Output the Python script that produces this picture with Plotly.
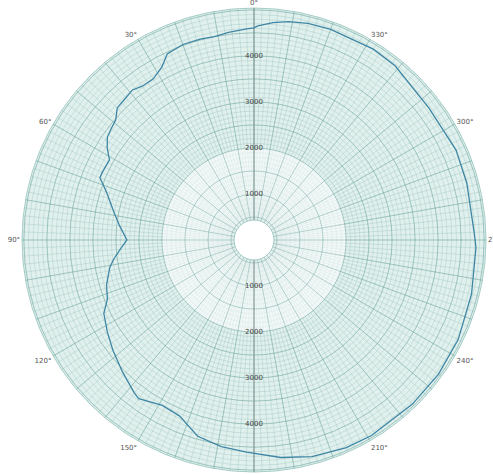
import plotly.graph_objects as go

# ---- data ----
theta_deg = [0, 2, 7, 11, 15, 20, 25, 28, 32, 36, 39, 43, 46, 49, 52, 55, 58, 61, 66, 68,
             72, 78, 84, 90, 94, 98, 101, 107, 112, 116, 122, 128, 135, 142, 144, 151, 157,
             164, 171, 178, 187, 195, 204, 211, 224, 234, 244, 256, 268, 272, 285, 294, 307,
             321, 328, 340, 346, 351, 355, 359, 360]
r_vals = [4610, 4590, 4545, 4500, 4520, 4520, 4460, 4260, 4130, 4130, 4195, 4150, 4130, 3980,
          3935, 3890, 3760, 3590, 3610, 3610, 3370, 3130, 2935, 2760, 2915, 3085, 3195, 3350,
          3435, 3630, 3760, 3890, 4045, 4220, 4260, 4110, 4150, 4435, 4545, 4610, 4760, 4870,
          4935, 4955, 4955, 4955, 4935, 4870, 4825, 4785, 4785, 4805, 4760, 4870, 4890, 4870,
          4850, 4805, 4740, 4650, 4610]

radial_label_vals = [1000, 2000, 3000, 4000]
radial_label_text = ["1000", "2000", "3000", "4000"]
angle_label_vals = [0, 30, 60, 90, 120, 150, 180, 210, 240, 270, 300, 330]
angle_label_text = ["0°", "30°", "60°", "90°", "120°", "150°", "180°", "210°",
                    "240°", "270°", "300°", "330°"]

R_MIN, R_MAX = 435, 5040
INNER_ZONE_END = 2000

# ---- styling helpers ----
minor_theta = list(range(0, 360, 2))
minor_theta_text = [angle_label_text[angle_label_vals.index(a)] if a in angle_label_vals else ""
                    for a in minor_theta]
minor_r = list(range(500, 5001, 100))
major_theta = list(range(0, 360, 10))
major_r = list(range(500, 5001, 500))

W, H = 493, 475
cx, cy, rad = 254, 240, 232
dom_x = [(cx - rad) / W, (cx + rad) / W]
dom_y = [(H - (cy + rad)) / H, (H - (cy - rad)) / H]
hole = 20 / rad

fig = go.Figure()

# lighter inner zone
fig.add_trace(go.Barpolar(
    r=[INNER_ZONE_END - R_MIN], base=[R_MIN], theta=[0], width=[360],
    marker=dict(color="rgba(255,255,255,0.55)", line=dict(width=0)),
    hoverinfo="skip", subplot="polar", showlegend=False))

# recorded trace
fig.add_trace(go.Scatterpolar(
    r=r_vals, theta=theta_deg, mode="lines",
    line=dict(color="#3f86a4", width=1.3),
    subplot="polar2", showlegend=False))

# radial labels on the vertical axis (top and bottom)
fig.add_trace(go.Scatterpolar(
    r=radial_label_vals + radial_label_vals,
    theta=[0] * len(radial_label_vals) + [180] * len(radial_label_vals),
    mode="text", text=radial_label_text + radial_label_text,
    textfont=dict(size=7, color="#444444", family="DejaVu Sans"),
    subplot="polar2", showlegend=False, hoverinfo="skip"))

minor_grid = "rgba(110,165,160,0.22)"
major_grid = "rgba(90,150,145,0.36)"

fig.update_layout(
    width=W, height=H,
    margin=dict(l=0, r=0, t=0, b=0),
    paper_bgcolor="white",
    showlegend=False,
    polar=dict(
        domain=dict(x=dom_x, y=dom_y),
        bgcolor="#e0f0ed",
        hole=hole,
        angularaxis=dict(
            rotation=90, direction="counterclockwise",
            tickmode="array", tickvals=minor_theta, ticktext=minor_theta_text,
            ticks="", showgrid=True, gridcolor=minor_grid, gridwidth=0.5,
            showline=True, linecolor="#a6cdc7", linewidth=1,
            tickfont=dict(size=7, color="#555555", family="DejaVu Sans"),
            layer="above traces"),
        radialaxis=dict(
            range=[R_MIN, R_MAX], tickmode="array", tickvals=minor_r,
            showticklabels=False, ticks="", showgrid=True,
            gridcolor=minor_grid, gridwidth=0.5,
            showline=True, linecolor="#8a9896", linewidth=1, angle=90,
            layer="above traces"),
    ),
    polar2=dict(
        domain=dict(x=dom_x, y=dom_y),
        bgcolor="rgba(0,0,0,0)",
        hole=hole,
        angularaxis=dict(
            rotation=90, direction="counterclockwise",
            tickmode="array", tickvals=major_theta, showticklabels=False,
            ticks="", showgrid=True, gridcolor=major_grid, gridwidth=0.6,
            showline=False, layer="below traces"),
        radialaxis=dict(
            range=[R_MIN, R_MAX], tickmode="array", tickvals=major_r,
            showticklabels=False, ticks="", showgrid=True,
            gridcolor=major_grid, gridwidth=0.6,
            showline=True, linecolor="#8a9896", linewidth=1, angle=270,
            layer="below traces"),
    ),
)

fig.write_html("out.html", config={"displayModeBar": False},
               post_script="document.body.style.margin='0';document.body.style.overflow='hidden';")
